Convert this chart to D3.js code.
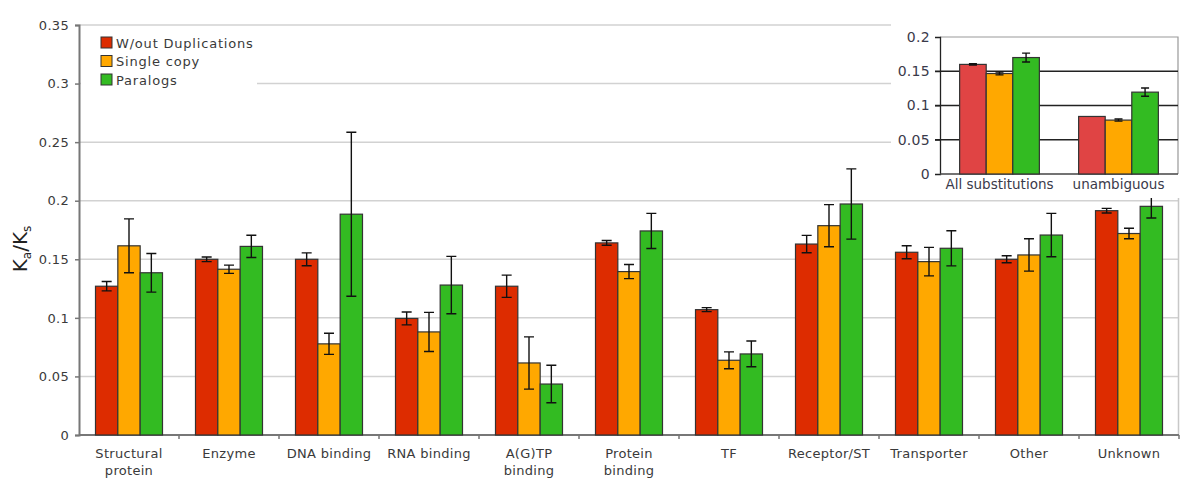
<!DOCTYPE html>
<html>
<head>
<meta charset="utf-8">
<script src="https://cdn.jsdelivr.net/npm/d3@7"></script>
<style>
body { margin: 0; background: #fff; }
svg { font-family: "DejaVu Sans", Verdana, sans-serif; }
.tick-label { fill: #3a3a3a; font-size: 13px; letter-spacing: 0.3px; }
</style>
</head>
<body>
<svg width="1200" height="489"></svg>
<script>
// categories + series (Ka/Ks and +/- error)
const categories = ["Structural protein", "Enzyme", "DNA binding", "RNA binding", "A(G)TP binding",
  "Protein binding", "TF", "Receptor/ST", "Transporter", "Other", "Unknown"]
const catLines = [["Structural", "protein"], ["Enzyme"], ["DNA binding"], ["RNA binding"], ["A(G)TP", "binding"],
  ["Protein", "binding"], ["TF"], ["Receptor/ST"], ["Transporter"], ["Other"], ["Unknown"]]
const series = ["W/out Duplications", "Single copy", "Paralogs"]

const woutDup = [0.127, 0.150, 0.150, 0.0995, 0.127, 0.164, 0.107, 0.163, 0.156, 0.150, 0.1915]
const woutDupErr = [0.004, 0.002, 0.0055, 0.0055, 0.0095, 0.002, 0.0017, 0.0074, 0.0055, 0.003, 0.002]
const singleCopy = [0.1615, 0.1415, 0.0778, 0.088, 0.0615, 0.1395, 0.0638, 0.1787, 0.148, 0.1537, 0.172]
const singleCopyErr = [0.023, 0.0035, 0.009, 0.0167, 0.0223, 0.006, 0.0072, 0.018, 0.0122, 0.0138, 0.0045]
const paralogs = [0.1385, 0.161, 0.1885, 0.128, 0.0435, 0.1742, 0.0692, 0.1972, 0.1594, 0.1707, 0.1952]
const paralogsErr = [0.0165, 0.0095, 0.070, 0.0245, 0.016, 0.015, 0.011, 0.030, 0.015, 0.0185, 0.010]

const yTicks = [0, 0.05, 0.1, 0.15, 0.2, 0.25, 0.3, 0.35]

// inset
const insetCats = ["All substitutions", "unambiguous"]
const insetWout = [0.160, 0.084]
const insetWoutErr = [0.001, 0]
const insetSingle = [0.1467, 0.0787]
const insetSingleErr = [0.002, 0.0015]
const insetPara = [0.170, 0.1195]
const insetParaErr = [0.0065, 0.006]
const insetTicks = [0, 0.05, 0.1, 0.15, 0.2]

const colors = ["#dd2c00", "#ffa800", "#33bb22"]
const insetColors = ["#e04444", "#ffa800", "#33bb22"]

const svg = d3.select("svg")

//main scales
const x0 = d3.scaleBand()
  .domain(categories)
  .range([79, 1179])
  .paddingInner(0.33)
  .paddingOuter(0.165)

const x1 = d3.scaleBand()
  .domain(series)
  .range([0, x0.bandwidth()])

const y = d3.scaleLinear()
  .domain([0, 0.35])
  .range([435, 25])

// gridlines
svg.append("g")
  .selectAll("line")
  .data(yTicks.filter(d => d > 0))
  .enter()
  .append("line")
  .attr("x1", 79)
  .attr("x2", 1179)
  .attr("y1", d => y(d))
  .attr("y2", d => y(d))
  .attr("stroke", "#d2d2d2")
  .attr("stroke-width", 1.5)

// right border
svg.append("line")
  .attr("x1", 1178.5).attr("x2", 1178.5)
  .attr("y1", y(0.35)).attr("y2", y(0))
  .attr("stroke", "#c8c8c8")
  .attr("stroke-width", 1.5)

// y axis
const yAxis = d3.axisLeft(y)
  .tickValues(yTicks)
  .tickFormat(d => d3.format("")(+d.toFixed(2)))
  .tickSize(4)
  .tickPadding(6)

const yg = svg.append("g")
  .attr("transform", "translate(79,0)")
  .call(yAxis)
yg.select(".domain").attr("stroke", "#777").attr("stroke-width", 2)
yg.selectAll(".tick line").attr("stroke", "#777").attr("stroke-width", 1.5)
yg.selectAll(".tick text").attr("class", "tick-label")
yg.attr("font-family", null).attr("font-size", null)

// x axis line + ticks between groups
svg.append("line")
  .attr("x1", 79).attr("x2", 1179)
  .attr("y1", y(0)).attr("y2", y(0))
  .attr("stroke", "#777")
  .attr("stroke-width", 2)

svg.append("g")
  .selectAll("line")
  .data(categories)
  .enter()
  .append("line")
  .attr("x1", d => x0(d) + x0.bandwidth() + x0.step() * 0.165)
  .attr("x2", d => x0(d) + x0.bandwidth() + x0.step() * 0.165)
  .attr("y1", y(0))
  .attr("y2", y(0) + 4)
  .attr("stroke", "#777")
  .attr("stroke-width", 1.5)

// category labels
const labels = svg.append("g")
  .selectAll("text")
  .data(categories)
  .enter()
  .append("text")
  .attr("class", "tick-label")
  .attr("text-anchor", "middle")
  .attr("x", d => x0(d) + x0.bandwidth() / 2)
  .attr("y", 458)

labels.selectAll("tspan")
  .data((d, i) => catLines[i])
  .enter()
  .append("tspan")
  .attr("x", function () { return d3.select(this.parentNode).attr("x") })
  .attr("dy", (d, i) => i == 0 ? 0 : 17)
  .text(d => d)

// bars
const vals = [woutDup, singleCopy, paralogs]
const errs = [woutDupErr, singleCopyErr, paralogsErr]

const rows = []
categories.forEach((c, i) => {
  series.forEach((s, j) => {
    rows.push({ cat: c, s: s, j: j, v: vals[j][i], e: errs[j][i] })
  })
})

const groups = svg.selectAll("g.bar")
  .data(rows)
  .enter()
  .append("g")
  .attr("class", "bar")
  .attr("transform", d => `translate(${x0(d.cat) + x1(d.s)},0)`)

groups.append("rect")
  .attr("x", 0)
  .attr("y", d => y(d.v))
  .attr("width", x1.bandwidth())
  .attr("height", d => y(0) - y(d.v))
  .attr("fill", d => colors[d.j])
  .attr("stroke", "#333")
  .attr("stroke-width", 1.2)

function errorBars(sel, scale, w, cap) {
  sel.filter(d => d.e > 0)
    .append("path")
    .attr("d", d => {
      const cx = w / 2
      const t = scale(d.v + d.e), b = scale(d.v - d.e)
      return `M${cx - cap},${t}H${cx + cap}M${cx},${t}V${b}M${cx - cap},${b}H${cx + cap}`
    })
    .attr("fill", "none")
    .attr("stroke", "#111")
    .attr("stroke-width", 1.4)
}
errorBars(groups, y, x1.bandwidth(), 5)

// legend
const legend = svg.append("g")
legend.append("rect")
  .attr("x", 81).attr("y", 30)
  .attr("width", 176).attr("height", 62)
  .attr("fill", "#fff")

const li = legend.selectAll("g")
  .data(series)
  .enter()
  .append("g")
  .attr("transform", (d, i) => `translate(101,${37 + i * 18.5})`)

li.append("rect")
  .attr("width", 11).attr("height", 11)
  .attr("fill", (d, i) => colors[i])
  .attr("stroke", "#333")
  .attr("stroke-width", 1)

li.append("text")
  .attr("x", 15)
  .attr("y", 10.5)
  .attr("class", "tick-label")
  .style("letter-spacing", "0.8px")
  .text(d => d)

// y label Ka/Ks
const ylab = svg.append("text")
  .attr("transform", "translate(27,249) rotate(-90)")
  .attr("text-anchor", "middle")
  .attr("font-size", 20)
  .attr("fill", "#222")
ylab.append("tspan").text("K")
ylab.append("tspan").attr("font-size", 12).attr("dy", 4).text("a")
ylab.append("tspan").attr("dy", -4).text("/K")
ylab.append("tspan").attr("font-size", 12).attr("dy", 4).text("s")

// ---- inset ----
svg.append("rect")
  .attr("x", 891).attr("y", 0)
  .attr("width", 309).attr("height", 198)
  .attr("fill", "#fff")

const xi = d3.scaleBand()
  .domain(insetCats)
  .range([940, 1178])
  .paddingInner(0.33)
  .paddingOuter(0.165)

const xi1 = d3.scaleBand()
  .domain(series)
  .range([0, xi.bandwidth()])

const yi = d3.scaleLinear()
  .domain([0, 0.2])
  .range([174, 37])

// box top/right
svg.append("path")
  .attr("d", `M940,${yi(0.2)}H1178V${yi(0)}`)
  .attr("fill", "none")
  .attr("stroke", "#999")
  .attr("stroke-width", 1.2)

svg.append("g")
  .selectAll("line")
  .data(insetTicks.filter(d => d > 0 && d < 0.2))
  .enter()
  .append("line")
  .attr("x1", 935)
  .attr("x2", 1178)
  .attr("y1", d => yi(d))
  .attr("y2", d => yi(d))
  .attr("stroke", "#222")
  .attr("stroke-width", 1.3)

const yig = svg.append("g")
  .attr("transform", "translate(940,0)")
  .call(d3.axisLeft(yi).tickValues(insetTicks).tickFormat(d => +d.toFixed(2)).tickSize(5).tickPadding(5))
yig.attr("font-family", null).attr("font-size", null)
yig.select(".domain").attr("stroke", "#222").attr("stroke-width", 1.3)
yig.selectAll(".tick line").attr("stroke", "#222")
yig.selectAll(".tick text").attr("fill", "#3a3a4a").attr("font-size", 14).style("letter-spacing", "0.3px")

svg.append("line")
  .attr("x1", 940).attr("x2", 1178)
  .attr("y1", yi(0)).attr("y2", yi(0))
  .attr("stroke", "#444")
  .attr("stroke-width", 1.5)

svg.append("g")
  .selectAll("text")
  .data(insetCats)
  .enter()
  .append("text")
  .attr("x", d => xi(d) + xi.bandwidth() / 2)
  .attr("y", 189)
  .attr("text-anchor", "middle")
  .attr("font-size", 13.5)
  .attr("fill", "#3a3a4a")
  .text(d => d)

const ivals = [insetWout, insetSingle, insetPara]
const ierrs = [insetWoutErr, insetSingleErr, insetParaErr]
const irows = []
insetCats.forEach((c, i) => {
  series.forEach((s, j) => {
    irows.push({ cat: c, s: s, j: j, v: ivals[j][i], e: ierrs[j][i] })
  })
})

const igroups = svg.selectAll("g.ibar")
  .data(irows)
  .enter()
  .append("g")
  .attr("class", "ibar")
  .attr("transform", d => `translate(${xi(d.cat) + xi1(d.s)},0)`)

igroups.append("rect")
  .attr("x", 0)
  .attr("y", d => yi(d.v))
  .attr("width", xi1.bandwidth())
  .attr("height", d => yi(0) - yi(d.v))
  .attr("fill", d => insetColors[d.j])
  .attr("stroke", "#333")
  .attr("stroke-width", 1.2)

errorBars(igroups, yi, xi1.bandwidth(), 4)
</script>
</body>
</html>
